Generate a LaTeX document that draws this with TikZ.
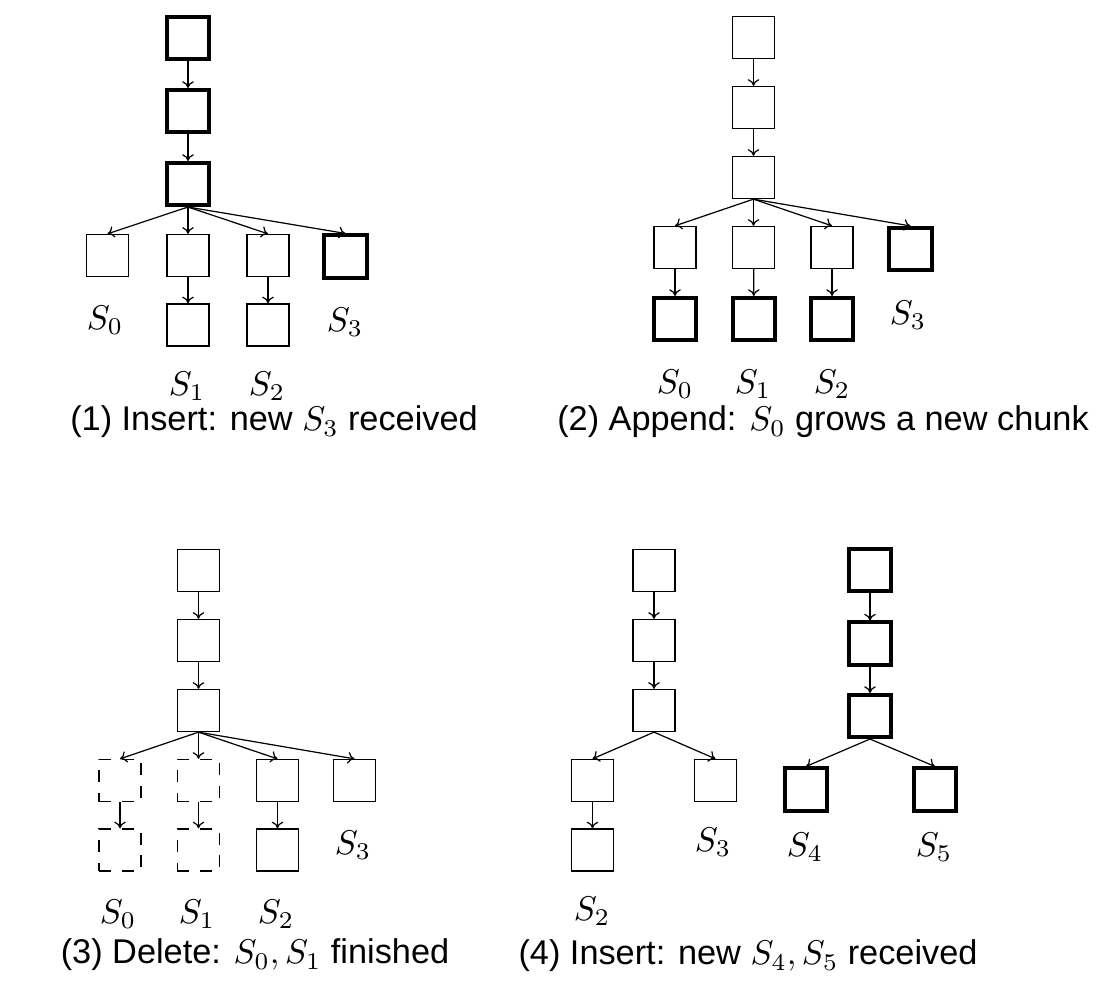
\RequirePackage{fix-cm}
\documentclass[tikz,border=0pt,11pt]{standalone}
\usepackage[no-math]{fontspec}
\setmainfont{Liberation Sans}
\usetikzlibrary{arrows.meta}
\begin{document}
\begin{tikzpicture}[x=0.3279pt, y=-0.3279pt,
  font=\fontsize{11.25}{13.5}\selectfont,
  box/.style={draw, line width=0.4pt, minimum size=13.8pt, inner sep=0pt},
  newbox/.style={box, line width=1.3pt},
  gone/.style={box, dash pattern=on 3.9pt off 3.6pt},
  link/.style={-{To[length=2.2pt,width=3.8pt]}, line width=0.4pt},
  lbl/.style={inner sep=0pt},
  captext/.style={inner sep=0pt}]
\useasboundingbox (0,0) rectangle (1106,1006);

% ---------- Panel 1 ----------
\node[newbox] (p1a) at (188,38) {};
\node[newbox] (p1b) at (188,111) {};
\node[newbox] (p1c) at (188,184) {};
\node[box] (p1s0) at (107.5,255.5) {};
\node[box] (p1s1) at (188,255.5) {};
\node[box] (p1s2) at (268,255.5) {};
\node[newbox] (p1s3) at (345.5,256.5) {};
\node[box] (p1t1) at (188,325) {};
\node[box] (p1t2) at (268,325) {};
\draw[link] (p1a) -- (p1b);
\draw[link] (p1b) -- (p1c);
\foreach \n in {p1s0,p1s1,p1s2,p1s3} \draw[link] (p1c.south) -- (\n.north);
\draw[link] (p1s1) -- (p1t1);
\draw[link] (p1s2) -- (p1t2);
\node[lbl] (p1l0) at (105,320) {$S_0$};
\node[lbl] (p1l3) at (345,322) {$S_3$};
\node[lbl] (p1l1) at (187,386) {$S_1$};
\node[lbl] (p1l2) at (267,386) {$S_2$};
\node[captext] (cap1) at (274,422) {(1) Insert: new $S_3$ received};

% ---------- Panel 2 ----------
\node[box] (p2a) at (753.5,37.5) {};
\node[box] (p2b) at (753.5,107.5) {};
\node[box] (p2c) at (753.5,177.5) {};
\node[box] (p2s0) at (675,247.5) {};
\node[box] (p2s1) at (753.5,247.5) {};
\node[box] (p2s2) at (832,247.5) {};
\node[newbox] (p2s3) at (910.5,249) {};
\node[newbox] (p2t0) at (675,319) {};
\node[newbox] (p2t1) at (754,319) {};
\node[newbox] (p2t2) at (832,319) {};
\draw[link] (p2a) -- (p2b);
\draw[link] (p2b) -- (p2c);
\foreach \n in {p2s0,p2s1,p2s2,p2s3} \draw[link] (p2c.south) -- (\n.north);
\draw[link] (p2s0) -- (p2t0);
\draw[link] (p2s1) -- (p2t1);
\draw[link] (p2s2) -- (p2t2);
\node[lbl] (p2l0) at (675,384) {$S_0$};
\node[lbl] (p2l1) at (753,384) {$S_1$};
\node[lbl] (p2l2) at (832,384) {$S_2$};
\node[lbl] (p2l3) at (908,315) {$S_3$};
\node[captext] (cap2) at (823,422) {(2) Append: $S_0$ grows a new chunk};

% ---------- Panel 3 ----------
\node[box] (p3a) at (198.5,570.5) {};
\node[box] (p3b) at (198.5,640.5) {};
\node[box] (p3c) at (198.5,710.5) {};
\node[gone] (p3s0) at (120,780.5) {};
\node[gone] (p3s1) at (198.5,780.5) {};
\node[box] (p3s2) at (277.5,780.5) {};
\node[box] (p3s3) at (354.5,780.5) {};
\node[gone] (p3t0) at (120,850) {};
\node[gone] (p3t1) at (198.5,850) {};
\node[box] (p3t2) at (277.5,850) {};
\draw[link] (p3a) -- (p3b);
\draw[link] (p3b) -- (p3c);
\foreach \n in {p3s0,p3s1,p3s2,p3s3} \draw[link] (p3c.south) -- (\n.north);
\draw[link] (p3s0) -- (p3t0);
\draw[link] (p3s1) -- (p3t1);
\draw[link] (p3s2) -- (p3t2);
\node[lbl] (p3l0) at (118,914) {$S_0$};
\node[lbl] (p3l1) at (197,914) {$S_1$};
\node[lbl] (p3l2) at (276,914) {$S_2$};
\node[lbl] (p3l3) at (353,845) {$S_3$};
\node[captext] (cap3) at (255,955) {(3) Delete: $S_0, S_1$ finished};

% ---------- Panel 4 ----------
\node[box] (p4a) at (654,570.5) {};
\node[box] (p4b) at (654,640.5) {};
\node[box] (p4c) at (654,710.5) {};
\node[box] (p4s2) at (592.5,780.5) {};
\node[box] (p4s3) at (715.5,780.5) {};
\node[box] (p4t2) at (592.5,850) {};
\draw[link] (p4a) -- (p4b);
\draw[link] (p4b) -- (p4c);
\draw[link] (p4c.south) -- (p4s2.north);
\draw[link] (p4c.south) -- (p4s3.north);
\draw[link] (p4s2) -- (p4t2);
\node[lbl] (p4l3) at (713,842) {$S_3$};
\node[lbl] (p4l2) at (592,911) {$S_2$};
\node[newbox] (p4x) at (870,570) {};
\node[newbox] (p4y) at (870,643.5) {};
\node[newbox] (p4z) at (870,716) {};
\node[newbox] (p4s4) at (806,789.5) {};
\node[newbox] (p4s5) at (935,789.5) {};
\draw[link] (p4x) -- (p4y);
\draw[link] (p4y) -- (p4z);
\draw[link] (p4z.south) -- (p4s4.north);
\draw[link] (p4z.south) -- (p4s5.north);
\node[lbl] (p4l4) at (805,847) {$S_4$};
\node[lbl] (p4l5) at (934,847) {$S_5$};
\node[captext] (cap4) at (748,956) {(4) Insert: new $S_4, S_5$ received};
\end{tikzpicture}
\end{document}
